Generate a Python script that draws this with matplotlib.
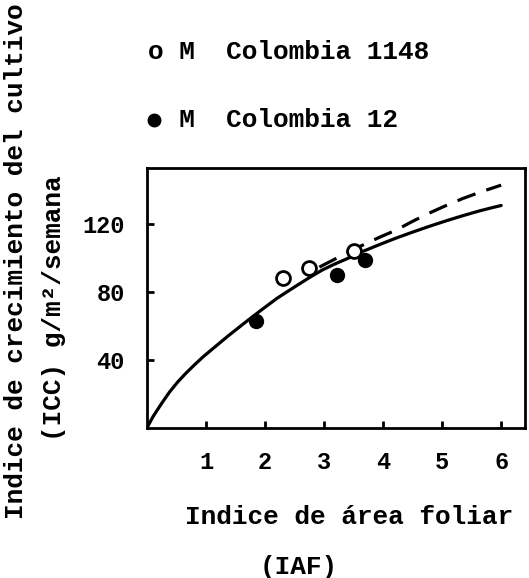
import matplotlib.pyplot as plt
from matplotlib.lines import Line2D

# Datos
iaf_1148 = [2.3, 2.75, 3.5]
icc_1148 = [88, 94, 104]
iaf_12 = [1.85, 3.22, 3.7]
icc_12 = [63, 90, 99]

# curva ajustada (continua) y curva de Colombia 1148 (discontinua)
curva_x = [0.0, 0.1, 0.25, 0.38, 0.52, 0.66, 0.81, 0.95, 1.1, 1.37, 1.66,
           1.94, 2.21, 2.5, 2.75, 2.97, 3.18, 3.38, 3.66, 3.94, 4.22, 4.49,
           4.78, 5.07, 5.35, 5.63, 5.82, 6.0]
curva_y = [0.0, 6.5, 14.5, 21, 27, 32.2, 37.3, 41.8, 46.2, 54, 62,
           69.5, 76.5, 83, 88.5, 93, 96.5, 99.5, 104, 108, 111.8, 115.2,
           118.7, 122, 125, 127.8, 129.5, 131]
dash_x = [2.92, 3.3, 3.65, 3.94, 4.22, 4.5, 4.78, 5.06, 5.34, 5.67, 6.0]
dash_y = [94.7, 101.5, 107.6, 112.3, 116.5, 121.7, 126.5, 130.9, 135, 139.2, 143]

xticks = [1, 2, 3, 4, 5, 6]
yticks = [40, 80, 120]

mono = ['Liberation Mono', 'DejaVu Sans Mono', 'DejaVu Sans']

fig = plt.figure(figsize=(5.29, 5.78), dpi=100)
ax = fig.add_axes([0.278, 0.26, 0.714, 0.449])

ax.plot(curva_x, curva_y, color='black', lw=2.3, solid_capstyle='round',
        solid_joinstyle='round')
ax.plot(dash_x, dash_y, color='black', lw=2.3, dashes=(6, 3.6))
ax.plot(iaf_1148, icc_1148, 'o', ms=10, mfc='white', mec='black', mew=2)
ax.plot(iaf_12, icc_12, 'o', ms=10, mfc='black', mec='black')

ax.set_xlim(0, 6.4)
ax.set_ylim(0, 153)
ax.set_xticks(xticks)
ax.set_yticks(yticks)
ax.tick_params(direction='in', length=5, width=2, labelsize=17)
ax.tick_params(axis='x', pad=17)
ax.tick_params(axis='y', pad=16)
for lab in ax.get_xticklabels() + ax.get_yticklabels():
    lab.set_family(mono)
    lab.set_fontweight('bold')
for s in ax.spines.values():
    s.set_linewidth(2)

# leyenda
fig.text(0.28, 0.91, "o M  Colombia 1148", family=mono, weight='bold',
         fontsize=18.8, va='center', ha='left')
fig.add_artist(Line2D([0.291], [0.792], marker='o', ms=9, color='black',
                      transform=fig.transFigure))
fig.text(0.28, 0.792, "  M  Colombia 12", family=mono, weight='bold',
         fontsize=18.8, va='center', ha='left')

# titulos de ejes
fig.text(0.03, 0.548, "Indice de crecimiento del cultivo", family=mono,
         weight='bold', fontsize=18.8, rotation=90, ha='center', va='center')
fig.text(0.102, 0.467, "(ICC) g/m\u00b2/semana", family=mono,
         weight='bold', fontsize=18.8, rotation=90, ha='center', va='center')
fig.text(0.66, 0.105, "Indice de área foliar", family=mono, weight='bold',
         fontsize=18.8, ha='center', va='center')
fig.text(0.565, 0.019, "(IAF)", family=mono, weight='bold',
         fontsize=18.8, ha='center', va='center')

plt.savefig("out.png", dpi=100)
